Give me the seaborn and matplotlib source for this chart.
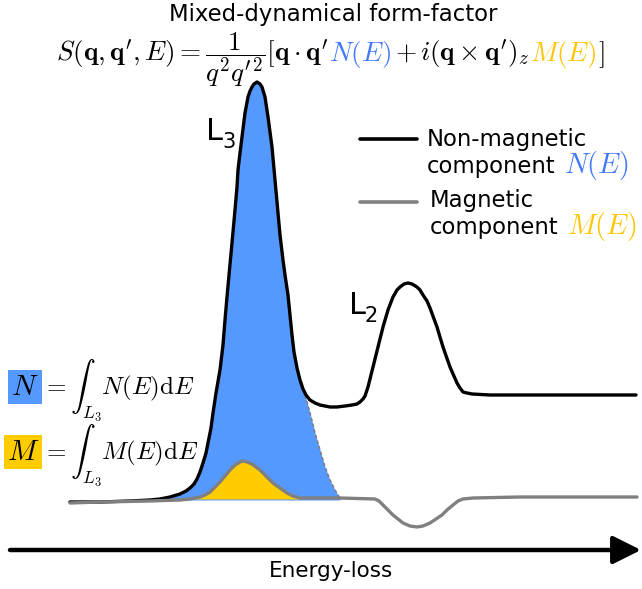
import numpy as np
import matplotlib
matplotlib.use("Agg")
import matplotlib.pyplot as plt
import seaborn as sns

# ---------------- data ----------------
# Non-magnetic component N(E): energy (a.u.) and intensity (a.u.)
energy_N = [70, 100, 130, 150, 160, 170, 180, 186, 190, 194, 197, 200, 203, 206,
            208, 211, 213, 216, 220, 223, 225, 227, 229, 232, 235, 237, 238, 240,
            242, 245, 248, 250, 252, 254, 257, 260, 262, 265, 268, 270, 272, 275,
            278, 280, 283, 285, 288, 290, 292, 294, 297, 300, 303, 306, 310, 315,
            320, 330, 337, 345, 352, 357, 360, 363, 365, 368, 373, 378, 383, 388,
            393, 397, 400, 404, 408, 412, 417, 420, 423, 427, 430, 437, 443, 450,
            457, 460, 463, 467, 472, 490, 557, 636]
intensity_N = [-2, -2, -1, 0, 1, 3, 6, 9, 12, 16, 21, 28, 37, 47,
               57, 72, 87, 107, 130, 155, 180, 203, 225, 257, 290, 313, 330, 347,
               363, 387, 403, 409, 413, 416, 418, 416, 413, 403, 383, 368, 353, 320,
               287, 265, 240, 225, 205, 185, 165, 148, 132, 120, 111, 105, 100, 97,
               95, 93, 93, 94, 95, 96, 98, 101, 104, 113, 133, 153, 173, 190,
               203, 210, 213, 216, 217, 216, 213, 210, 205, 199, 192, 173, 153, 133,
               117, 112, 108, 107, 106, 105, 105, 105]

# L3 part of N(E) (blue shaded area)
energy_L3 = [150, 160, 170, 180, 186, 190, 194, 197, 200, 203, 206, 208, 211, 213,
             216, 220, 223, 225, 227, 229, 232, 235, 237, 238, 240, 242, 245, 248,
             250, 252, 254, 257, 260, 262, 265, 268, 270, 272, 275, 278, 280, 283,
             285, 288, 290, 292, 294, 297, 300, 303, 305, 310, 315, 320, 325, 330,
             335, 338, 340]
intensity_L3 = [0, 1, 3, 6, 9, 12, 16, 21, 28, 37, 47, 57, 72, 87,
                107, 130, 155, 180, 203, 225, 257, 290, 313, 330, 347, 363, 387, 403,
                409, 413, 416, 418, 416, 413, 403, 383, 368, 353, 320, 287, 265, 240,
                225, 205, 185, 165, 148, 132, 120, 110, 105, 87, 67, 50, 33, 20,
                10, 5, 2]

# Magnetic component M(E)
energy_M = [70, 100, 150, 180, 190, 195, 200, 205, 210, 215, 220, 225, 230, 235,
            240, 243, 247, 252, 256, 260, 265, 270, 273, 280, 287, 293, 300, 340,
            375, 379, 383, 388, 393, 398, 403, 410, 417, 423, 430, 436, 442, 447,
            453, 458, 463, 473, 520, 580, 637]
intensity_M = [-3, -2, -1, 0, 1, 2, 3, 5, 8, 13, 18, 24, 30, 35,
               38, 39, 38, 36, 33, 30, 25, 20, 17, 12, 7, 4, 2, 2,
               1, -1, -5, -10, -15, -19, -23, -26, -27, -26, -23, -19, -15, -10,
               -5, -1, 1, 2, 3, 3, 3]

BLUE_FILL = "#5599ff"
BLUE_TXT = "#4479ff"
YELLOW = "#ffcc00"
YELLOW_TXT = "#ffc400"
GRAY = "#808080"

# ---------------- figure ----------------
sns.set_theme(style="white")
plt.rcParams["font.family"] = ["DejaVu Sans"]
plt.rcParams["mathtext.fontset"] = "cm"
plt.rcParams["text.color"] = "black"

W, H = 642, 589
fig = plt.figure(figsize=(W / 100, H / 100), dpi=100)
ax = fig.add_axes([0, 0, 1, 1])
ax.set_xlim(0, W)
ax.set_ylim(500 - H, 500)
ax.axis("off")

# shaded areas
ax.fill_between(energy_L3, intensity_L3, 0, color=BLUE_FILL, lw=0, zorder=1)
m_e = np.array(energy_M[5:27])
m_i = np.array(intensity_M[5:27])
ax.fill_between(m_e, m_i, 1, color=YELLOW, lw=0, zorder=2)
# dotted tail of L3 peak
ax.plot(energy_L3[49:], intensity_L3[49:], color=GRAY, lw=1.2, ls=(0, (2, 1.5)),
        zorder=2)

sns.lineplot(x=energy_N, y=intensity_N, color="black", lw=2.4, ax=ax,
             estimator=None, sort=False, zorder=4)
sns.lineplot(x=energy_M, y=intensity_M, color=GRAY, lw=2.4, ax=ax,
             estimator=None, sort=False, zorder=5)
for ln in ax.lines:
    ln.set_solid_joinstyle("round")
    ln.set_solid_capstyle("round")


def P(x, y):
    return (x / W, 1 - y / H)


renderer = fig.canvas.get_renderer()


def chain(pieces, x0, y0, size_default):
    x = x0
    for s, c, g, sz in pieces:
        x += g
        t = fig.text(*P(x, y0), s, color=c, fontsize=sz or size_default,
                     ha="left", va="baseline")
        bb = t.get_window_extent(renderer)
        x = bb.x1
    return x


# title
fig.text(*P(333, 21), "Mixed-dynamical form-factor", fontsize=16.4, ha="center",
         va="baseline")
chain([
    (r"$S(\mathbf{q},\mathbf{q}',E) = \dfrac{1}{q^2q'^2}[\mathbf{q}\cdot\mathbf{q}'$", "black", 0, None),
    (r"$N(E)$", BLUE_TXT, 1, None),
    (r"$+\,i(\mathbf{q}\times\mathbf{q}')_z$", "black", 4, None),
    (r"$M(E)$", YELLOW_TXT, 0, None),
    (r"$]$", "black", 1, None),
], 56, 61, 19.5)

# legend
ax.plot([360, 417], [500 - 139, 500 - 139], color="black", lw=2.6)
ax.plot([360, 417], [500 - 202, 500 - 202], color=GRAY, lw=2.6)
fig.text(*P(427, 146), "Non-magnetic", fontsize=16.4, ha="left", va="baseline")
chain([("component", "black", 0, None), (r"$N(E)$", BLUE_TXT, 8, 20.5)], 427, 173, 16.4)
fig.text(*P(430, 207), "Magnetic", fontsize=16.4, ha="left", va="baseline")
chain([("component", "black", 0, None), (r"$M(E)$", YELLOW_TXT, 8, 20.5)], 430, 234, 16.4)

# peak labels
fig.text(*P(206, 140), "L", fontsize=22, ha="left", va="baseline")
fig.text(*P(222, 148), "3", fontsize=15, ha="left", va="baseline")
fig.text(*P(349, 314), "L", fontsize=22, ha="left", va="baseline")
fig.text(*P(365, 322), "2", fontsize=15, ha="left", va="baseline")

# integrals
fig.text(*P(11, 395), r"$N$", fontsize=21, ha="left", va="baseline",
         bbox=dict(facecolor=BLUE_FILL, edgecolor="none", pad=2))
fig.text(*P(42, 395), r"$=\int_{L_3}N(E)\mathrm{d}E$", fontsize=18, ha="left",
         va="baseline")
fig.text(*P(7, 460), r"$M$", fontsize=21, ha="left", va="baseline",
         bbox=dict(facecolor=YELLOW, edgecolor="none", pad=2))
fig.text(*P(42, 460), r"$=\int_{L_3}M(E)\mathrm{d}E$", fontsize=18, ha="left",
         va="baseline")

# energy-loss axis arrow
ax.annotate("", xy=P(641, 550), xytext=P(10, 550), xycoords="figure fraction",
            textcoords="figure fraction",
            arrowprops=dict(arrowstyle="-|>,head_length=0.9,head_width=0.45",
                            mutation_scale=19, lw=3.2, color="black",
                            shrinkA=0, shrinkB=0))
fig.text(*P(331, 577), "Energy-loss", fontsize=15.5, ha="center", va="baseline")

fig.savefig("out.png", dpi=100)
